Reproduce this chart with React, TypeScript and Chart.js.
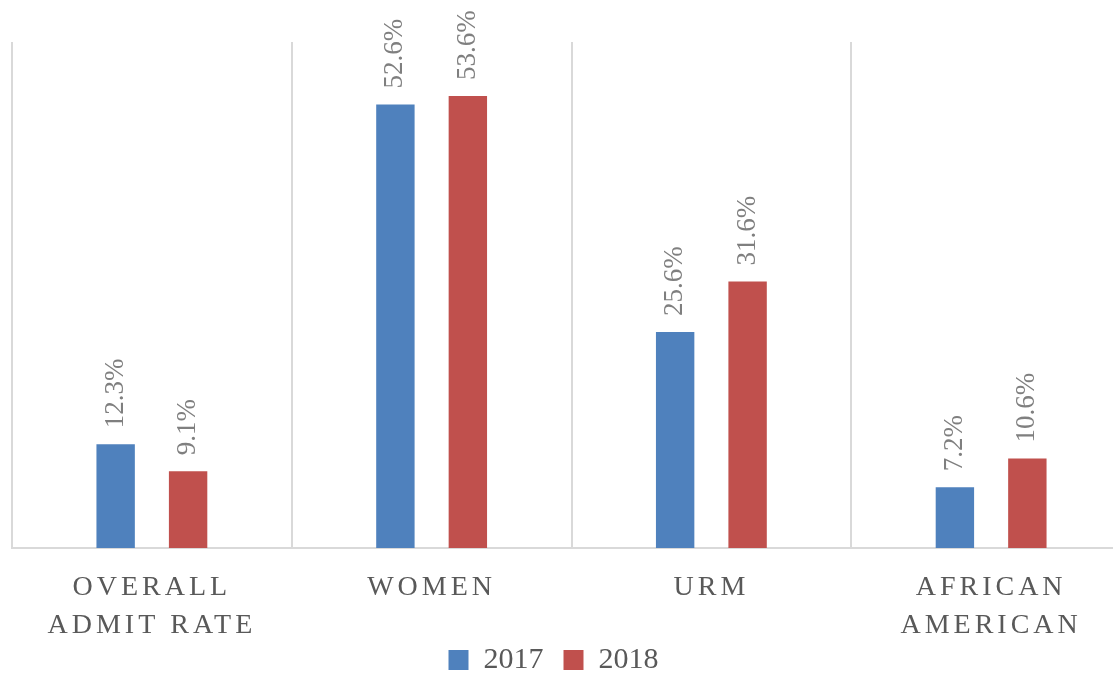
import React, { useEffect, useRef } from 'react';
import { Chart, registerables } from 'chart.js';

Chart.register(...registerables);

const categories: (string | string[])[] = [['OVERALL', 'ADMIT RATE'], 'WOMEN', 'URM', ['AFRICAN', 'AMERICAN']];
const seriesNames = ['2017', '2018'];
const values2017 = [12.3, 52.6, 25.6, 7.2];
const values2018 = [9.1, 53.6, 31.6, 10.6];
const seriesColors = ['#4F81BD', '#C0504D'];
const yMin = 0;
const yMax = 60;

const FONT = '"Liberation Serif", "Times New Roman", serif';

const dataLabelPlugin = {
  id: 'rotatedDataLabels',
  afterDatasetsDraw(chart: any) {
    const ctx = chart.ctx;
    chart.data.datasets.forEach((ds: any, di: number) => {
      const meta = chart.getDatasetMeta(di);
      meta.data.forEach((bar: any, i: number) => {
        const v = ds.data[i] as number;
        ctx.save();
        ctx.translate(bar.x, bar.y - 16);
        ctx.rotate(-Math.PI / 2);
        ctx.font = `27px ${FONT}`;
        ctx.fillStyle = '#7f7f7f';
        ctx.textAlign = 'left';
        ctx.textBaseline = 'middle';
        ctx.fillText(v.toFixed(1) + '%', 0, 0);
        ctx.restore();
      });
    });
  },
};

const tweakPlugin = {
  id: 'tweaks',
  afterLayout(chart: any) {
    const lg = chart.legend;
    if (lg) {
      lg.left -= 18;
      lg.right -= 18;
    }
  },
  beforeDraw(chart: any) {
    const scale = chart.scales.x;
    if (scale && !scale.__spaced) {
      const orig = scale.drawLabels.bind(scale);
      scale.drawLabels = (area: any) => {
        const c = chart.ctx;
        const savedBottom = scale.bottom;
        scale.bottom = chart.height;
        c.save();
        c.letterSpacing = '4px';
        orig(area);
        c.restore();
        scale.bottom = savedBottom;
      };
      scale.__spaced = true;
    }
  },
};

export default function App() {
  const ref = useRef<HTMLCanvasElement | null>(null);

  useEffect(() => {
    if (!ref.current) return;
    const chart = new Chart(ref.current, {
      type: 'bar',
      data: {
        labels: categories,
        datasets: [
          {
            label: seriesNames[0],
            data: values2017,
            backgroundColor: seriesColors[0],
            borderWidth: 0,
            categoryPercentage: 0.518,
            barPercentage: 0.53,
          },
          {
            label: seriesNames[1],
            data: values2018,
            backgroundColor: seriesColors[1],
            borderWidth: 0,
            categoryPercentage: 0.518,
            barPercentage: 0.53,
          },
        ],
      },
      options: {
        responsive: false,
        animation: false,
        devicePixelRatio: 1,
        layout: { padding: { left: 12, right: 9, top: 42, bottom: -11 } },
        plugins: {
          tooltip: { enabled: false },
          legend: {
            position: 'bottom',
            labels: {
              boxWidth: 20,
              boxHeight: 20,
              padding: 20,
              color: '#595959',
              font: { family: FONT, size: 30 },
            },
          },
        },
        scales: {
          x: {
            offset: true,
            grid: { display: true, color: '#d9d9d9', lineWidth: 2, drawTicks: false, offset: true },
            border: { display: true, color: '#d9d9d9', width: 2 },
            ticks: {
              color: '#595959',
              font: { family: FONT, size: 28, lineHeight: '38px' },
              padding: 21,
              maxRotation: 0,
              autoSkip: false,
            },
            afterFit: (s: any) => {
              s.height = 77;
            },
          },
          y: { display: false, min: yMin, max: yMax },
        },
      },
      plugins: [dataLabelPlugin, tweakPlugin],
    } as any);
    return () => chart.destroy();
  }, []);

  return (
    <div
      style={{
        position: 'absolute',
        left: 0,
        top: 0,
        width: 1113,
        height: 674,
        overflow: 'hidden',
        background: '#ffffff',
      }}
    >
      <canvas ref={ref} width={1140} height={674} style={{ display: 'block', width: 1140, height: 674 }} />
    </div>
  );
}
